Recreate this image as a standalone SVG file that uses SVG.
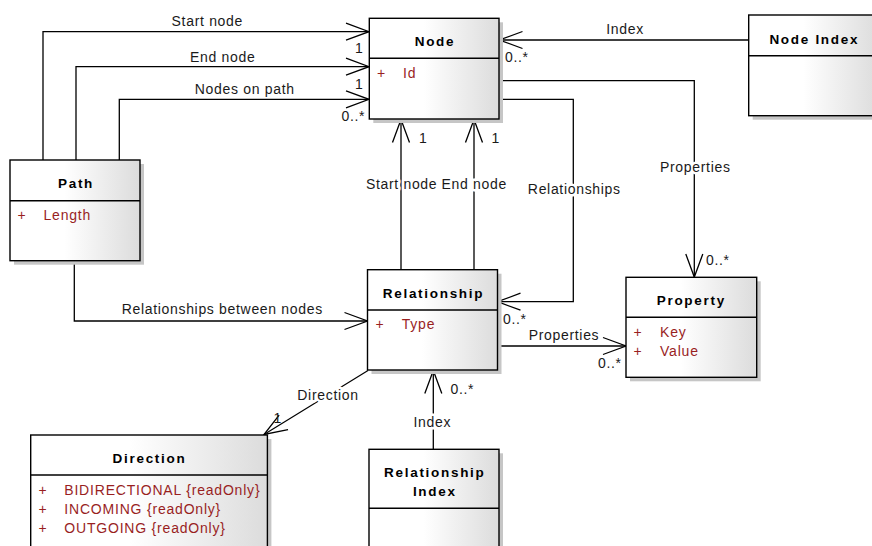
<svg xmlns="http://www.w3.org/2000/svg" width="872" height="546" viewBox="0 0 872 546">
<defs>
<linearGradient id="fillg" x1="0" y1="0" x2="1" y2="0">
<stop offset="0" stop-color="#ffffff"/>
<stop offset="0.42" stop-color="#ffffff"/>
<stop offset="1" stop-color="#dcdcdc"/>
</linearGradient>
<marker id="open" viewBox="-25 -11 27 22" refX="0" refY="0" markerWidth="27" markerHeight="22" markerUnits="userSpaceOnUse" orient="auto">
<path d="M-23,-8.5 L0,0 L-23,8.5" fill="none" stroke="#000" stroke-width="1.3"/>
</marker>
<style>
.sh{fill:#c6c6c6}
.box{fill:url(#fillg);stroke:#000;stroke-width:1.4}
.div{stroke:#000;stroke-width:1.4}
.title{font-family:"Liberation Sans",Arial,sans-serif;font-size:13.5px;font-weight:bold;letter-spacing:1.7px;text-anchor:middle;fill:#000}
.attr{font-family:"Liberation Sans",Arial,sans-serif;font-size:14px;letter-spacing:0.8px;fill:#991f1f}
.lbl{font-family:"Liberation Sans",Arial,sans-serif;font-size:14px;letter-spacing:0.68px;fill:#1a1a1a}
.mid{text-anchor:middle}
.bg{stroke:#fff;stroke-width:5;paint-order:stroke;stroke-linejoin:round}
.conn{fill:none;stroke:#000;stroke-width:1.3;marker-end:url(#open)}
</style>
</defs>
<rect width="872" height="546" fill="#fff"/>

<g id="connectors">
<path class="conn" d="M43,160 V31.7 H369"/>
<path class="conn" d="M76,160 V66.7 H369"/>
<path class="conn" d="M119.3,160 V99.3 H369"/>
<path class="conn" d="M749,40 H499.5"/>
<path class="conn" d="M499,80.7 H694.3 V277"/>
<path class="conn" d="M499,99.3 H573.3 V301.7 H497.5"/>
<path class="conn" d="M401,270 V119.5"/>
<path class="conn" d="M474,270 V119.5"/>
<path class="conn" d="M74.3,260.7 V321 H367.5"/>
<path class="conn" d="M497.5,346 H626"/>
<path class="conn" d="M368,370.5 L264,434.5"/>
<path class="conn" d="M433.3,449.3 V370.5"/>

<text class="lbl mid" x="207.3" y="26">Start node</text>
<text class="lbl mid" x="222.8" y="61.5">End node</text>
<text class="lbl mid" x="244.8" y="94">Nodes on path</text>
<text class="lbl mid" x="625" y="34">Index</text>
<text class="lbl mid bg" x="401.6" y="189">Start node</text>
<text class="lbl mid bg" x="474.3" y="189">End node</text>
<text class="lbl mid bg" x="574.3" y="194">Relationships</text>
<text class="lbl mid bg" x="695.3" y="172">Properties</text>
<text class="lbl mid" x="222.3" y="314">Relationships between nodes</text>
<text class="lbl mid" x="564" y="339.5">Properties</text>
<text class="lbl mid bg" x="328" y="399.5">Direction</text>
<text class="lbl mid bg" x="432.3" y="426.5">Index</text>

<text class="lbl" x="355" y="53">1</text>
<text class="lbl" x="355" y="89">1</text>
<text class="lbl" x="341.5" y="121">0..*</text>
<text class="lbl" x="505" y="62">0..*</text>
<text class="lbl" x="419" y="142.5">1</text>
<text class="lbl" x="491.5" y="142.5">1</text>
<text class="lbl" x="503" y="324">0..*</text>
<text class="lbl" x="598" y="368">0..*</text>
<text class="lbl" x="706" y="265">0..*</text>
<text class="lbl" x="450.5" y="394">0..*</text>
<text class="lbl" x="273.5" y="422.5">1</text>
</g>

<g id="node-node">
<rect class="sh" x="373.3" y="22.3" width="129.7" height="100.7"/>
<rect class="box" x="369.3" y="18.3" width="129.7" height="100.7"/>
<line class="div" x1="369.3" y1="58.3" x2="499" y2="58.3"/>
<text class="title" x="435" y="46.3">Node</text>
<text class="attr" x="377" y="77.7">+</text>
<text class="attr" x="403" y="77.7">Id</text>
</g>

<g id="node-nodeindex">
<rect class="sh" x="752.7" y="19" width="130" height="100.7"/>
<rect class="box" x="748.7" y="15" width="130" height="100.7"/>
<line class="div" x1="748.7" y1="55.7" x2="878.7" y2="55.7"/>
<text class="title" x="814.3" y="44">Node Index</text>
</g>

<g id="node-path">
<rect class="sh" x="14" y="164" width="130" height="100.7"/>
<rect class="box" x="10" y="160" width="130" height="100.7"/>
<line class="div" x1="10" y1="200.7" x2="140" y2="200.7"/>
<text class="title" x="76" y="188">Path</text>
<text class="attr" x="17.5" y="220">+</text>
<text class="attr" x="43.5" y="220">Length</text>
</g>

<g id="node-relationship">
<rect class="sh" x="371.5" y="273.7" width="130" height="100.3"/>
<rect class="box" x="367.5" y="269.7" width="130" height="100.3"/>
<line class="div" x1="367.5" y1="310" x2="497.5" y2="310"/>
<text class="title" x="433.5" y="297.7">Relationship</text>
<text class="attr" x="375.5" y="329.3">+</text>
<text class="attr" x="401.7" y="329.3">Type</text>
</g>

<g id="node-property">
<rect class="sh" x="630" y="281.3" width="130.7" height="100"/>
<rect class="box" x="626" y="277.3" width="130.7" height="100"/>
<line class="div" x1="626" y1="317.3" x2="756.7" y2="317.3"/>
<text class="title" x="691.3" y="305.3">Property</text>
<text class="attr" x="633.5" y="337.3">+</text>
<text class="attr" x="660" y="337.3">Key</text>
<text class="attr" x="633.5" y="356">+</text>
<text class="attr" x="660" y="356">Value</text>
</g>

<g id="node-direction">
<rect class="sh" x="34.7" y="439" width="236.7" height="130"/>
<rect class="box" x="30.7" y="435" width="236.7" height="130"/>
<line class="div" x1="30.7" y1="475" x2="267.4" y2="475"/>
<text class="title" x="149.5" y="463">Direction</text>
<text class="attr" x="38.5" y="495">+</text>
<text class="attr" x="64.3" y="495">BIDIRECTIONAL {readOnly}</text>
<text class="attr" x="38.5" y="514">+</text>
<text class="attr" x="64.3" y="514">INCOMING {readOnly}</text>
<text class="attr" x="38.5" y="532.7">+</text>
<text class="attr" x="64.3" y="532.7">OUTGOING {readOnly}</text>
</g>

<g id="node-relationshipindex">
<rect class="sh" x="373" y="453.3" width="130" height="120"/>
<rect class="box" x="369" y="449.3" width="130" height="120"/>
<line class="div" x1="369" y1="508.3" x2="499" y2="508.3"/>
<text class="title" x="434.8" y="477.3">Relationship</text>
<text class="title" x="434.8" y="496">Index</text>
</g>
</svg>
